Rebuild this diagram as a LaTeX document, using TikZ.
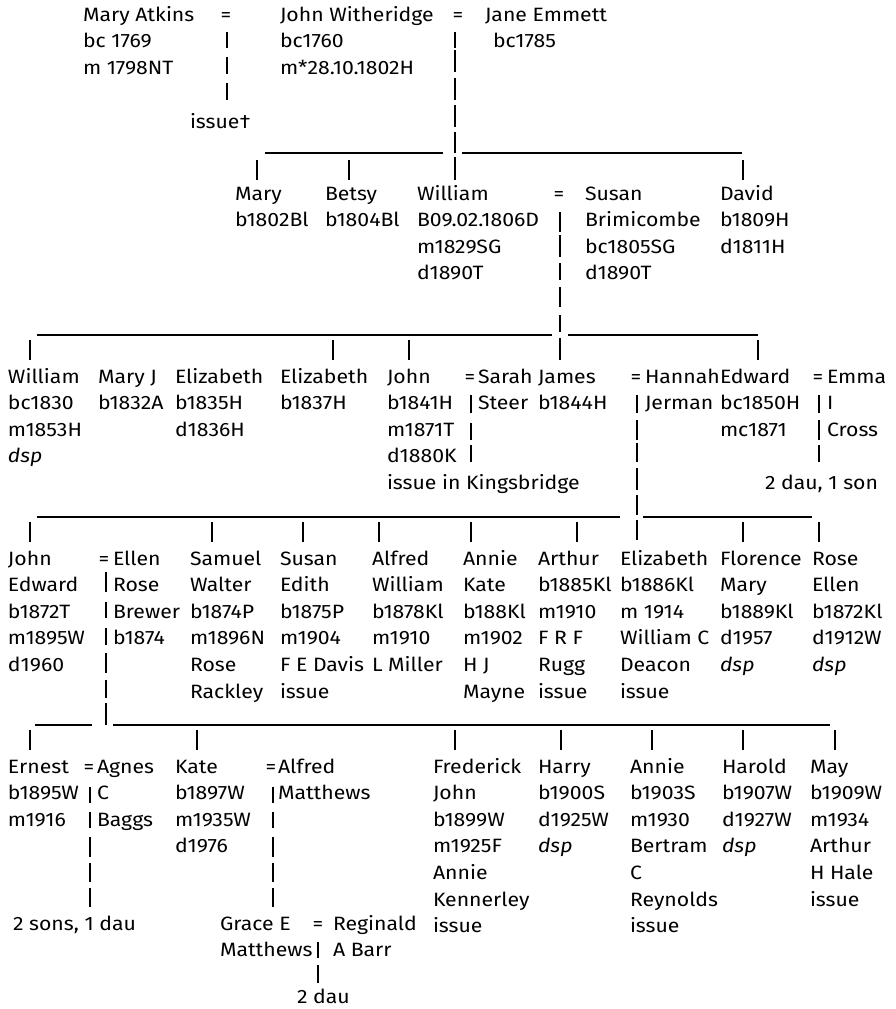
\documentclass[tikz,border=0pt]{standalone}
\usepackage{fontspec}
\setmainfont{Fira Sans}[FakeStretch=1.1]
\tikzset{
 txt/.style={anchor=base west, inner sep=0pt, outer sep=0pt, font=\fontsize{19.3}{23}\selectfont},
 eqs/.style={anchor=base, inner sep=0pt, outer sep=0pt, font=\fontsize{19.3}{23}\selectfont},
 bar/.style={line width=1.6pt},
 under/.style={line width=1.4pt},
}
\newcommand\col[4]{\foreach \t [count=\i from 0] in {#4}{\node[txt] (#1-\i) at (#2,{#3+26.6*\i}) {\t};}}
\newcommand\vbar[2]{\foreach \a/\b in {#2}{\draw[bar] (#1,\a) -- (#1,\b);}}
\begin{document}
\begin{tikzpicture}[x=1pt,y=-1pt]
\useasboundingbox (0,0) rectangle (895,1009);
% generation 1
\col{ma}{83}{21}{Mary Atkins,bc 1769,m 1798NT}
\node[eqs] (e1) at (226,21) {=};
\col{jw}{280}{21}{John Witheridge,bc1760,m*28.10.1802H}
\node[eqs] (e2) at (458,21) {=};
\node[txt] (je) at (485,21) {Jane Emmett};
\node[txt] (jeb) at (493,47) {bc1785};
\node[txt] (iss1) at (190,128) {issue†};
\vbar{227}{32/48,57/74,83/100}
\vbar{455}{32/48,50/72,78/100,105/127,132/153,157/180}
\draw[under] (265,153) -- (443,153);
\draw[under] (462,153) -- (742,153);
\vbar{257}{160/180}
\vbar{349}{160/180}
\vbar{743}{160/180}
% generation 2
\col{m2}{235}{200}{Mary,b1802Bl}
\col{b2}{325}{200}{Betsy,b1804Bl}
\col{w2}{417}{200}{William,B09.02.1806D,m1829SG,d1890T}
\node[eqs] (e3) at (559,200) {=};
\col{s2}{585}{200}{Susan,Brimicombe,bc1805SG,d1890T}
\col{d2}{720}{200}{David,b1809H,d1811H}
\vbar{560}{212/232,235/257,263/280,287/307,315/332,338/360}
\draw[under] (37,335) -- (552,335);
\draw[under] (568,335) -- (758,335);
\vbar{30}{340/360}
\vbar{333}{340/360}
\vbar{409}{340/360}
\vbar{758}{340/360}
% generation 3
\col{w3}{8}{383}{William,bc1830,m1853H,{\textit{dsp}}}
\col{mj3}{98}{383}{Mary J,b1832A}
\col{ea3}{175}{383}{Elizabeth,b1835H,d1836H}
\col{eb3}{280}{383}{Elizabeth,b1837H}
\col{j3}{387}{383}{John,b1841H,m1871T,d1880K,issue in Kingsbridge}
\node[eqs] (e4) at (470,383) {=};
\col{sa3}{478}{383}{Sarah,Steer}
\col{ja3}{538}{383}{James,b1844H}
\node[eqs] (e5) at (636,383) {=};
\col{h3}{645}{383}{Hannah,Jerman}
\col{ed3}{720}{383}{Edward,bc1850H,mc1871}
\node[eqs] (e6) at (818,383) {=};
\col{em3}{827}{383}{Emma,I,Cross}
\node[txt] (iss2) at (765,489.4) {2 dau, 1 son};
\vbar{471}{395/413,423/440,445/462}
\vbar{637}{395/413,420/440,443/462,468/490,495/515,520/540}
\vbar{819}{395/413,420/440,445/462}
\draw[under] (37,517) -- (620,517);
\draw[under] (643,517) -- (812,517);
\foreach \x in {30,212,303,379,471,577,743,819} {\vbar{\x}{522/542}}
% generation 4
\col{j4}{8}{565}{John,Edward,b1872T,m1895W,d1960}
\node[eqs] (e7) at (104,565) {=};
\col{el4}{113}{565}{Ellen,Rose,Brewer,b1874}
\col{sw4}{190}{565}{Samuel,Walter,b1874P,m1896N,Rose,Rackley}
\col{su4}{280}{565}{Susan,Edith,b1875P,m1904,F E Davis,issue}
\col{al4}{372}{565}{Alfred,William,b1878Kl,m1910,L Miller}
\col{an4}{463}{565}{Annie,Kate,b188Kl,m1902,H J,Mayne}
\col{ar4}{538}{565}{Arthur,b1885Kl,m1910,F R F,Rugg,issue}
\col{ez4}{620}{565}{Elizabeth,b1886Kl,m 1914,William C,Deacon,issue}
\col{fl4}{720}{565}{Florence,Mary,b1889Kl,d1957,{\textit{dsp}}}
\col{ro4}{812}{565}{Rose,Ellen,b1872Kl,d1912W,{\textit{dsp}}}
\vbar{106}{572/592,602/618,628/645,653/673,680/698,703/725}
\draw[under] (35,725) -- (92,725);
\draw[under] (113,725) -- (830,725);
\foreach \x in {30,197,455,561,652,743,835} {\vbar{\x}{730/750}}
% generation 5
\col{er5}{8}{773}{Ernest,b1895W,m1916}
\node[eqs] (e8) at (89,773) {=};
\col{ag5}{97}{773}{Agnes,C,Baggs}
\col{ka5}{175}{773}{Kate,b1897W,m1935W,d1976}
\node[eqs] (e9) at (271,773) {=};
\col{af5}{278}{773}{Alfred,Matthews}
\col{fr5}{433}{773}{Frederick,John,b1899W,m1925F,Annie,Kennerley,issue}
\col{ha5}{538}{773}{Harry,b1900S,d1925W,{\textit{dsp}}}
\col{an5}{630}{773}{Annie,b1903S,m1930,Bertram,C,Reynolds,issue}
\col{hd5}{722}{773}{Harold,b1907W,d1927W,{\textit{dsp}}}
\col{my5}{810}{773}{May,b1909W,m1934,Arthur,H Hale,issue}
\vbar{90}{787/803,812/828,837/857,863/882,888/907}
\vbar{273}{787/803,812/828,837/857,863/882,888/907}
\node[txt] (iss3) at (13,930) {2 sons, 1 dau};
\col{gr6}{220}{930}{Grace E,Matthews}
\node[eqs] (e10) at (318,930) {=};
\col{re6}{333}{930}{Reginald,A Barr}
\vbar{318}{942/958,965/983}
\node[txt] (iss4) at (297,1003) {2 dau};
\end{tikzpicture}
\end{document}
